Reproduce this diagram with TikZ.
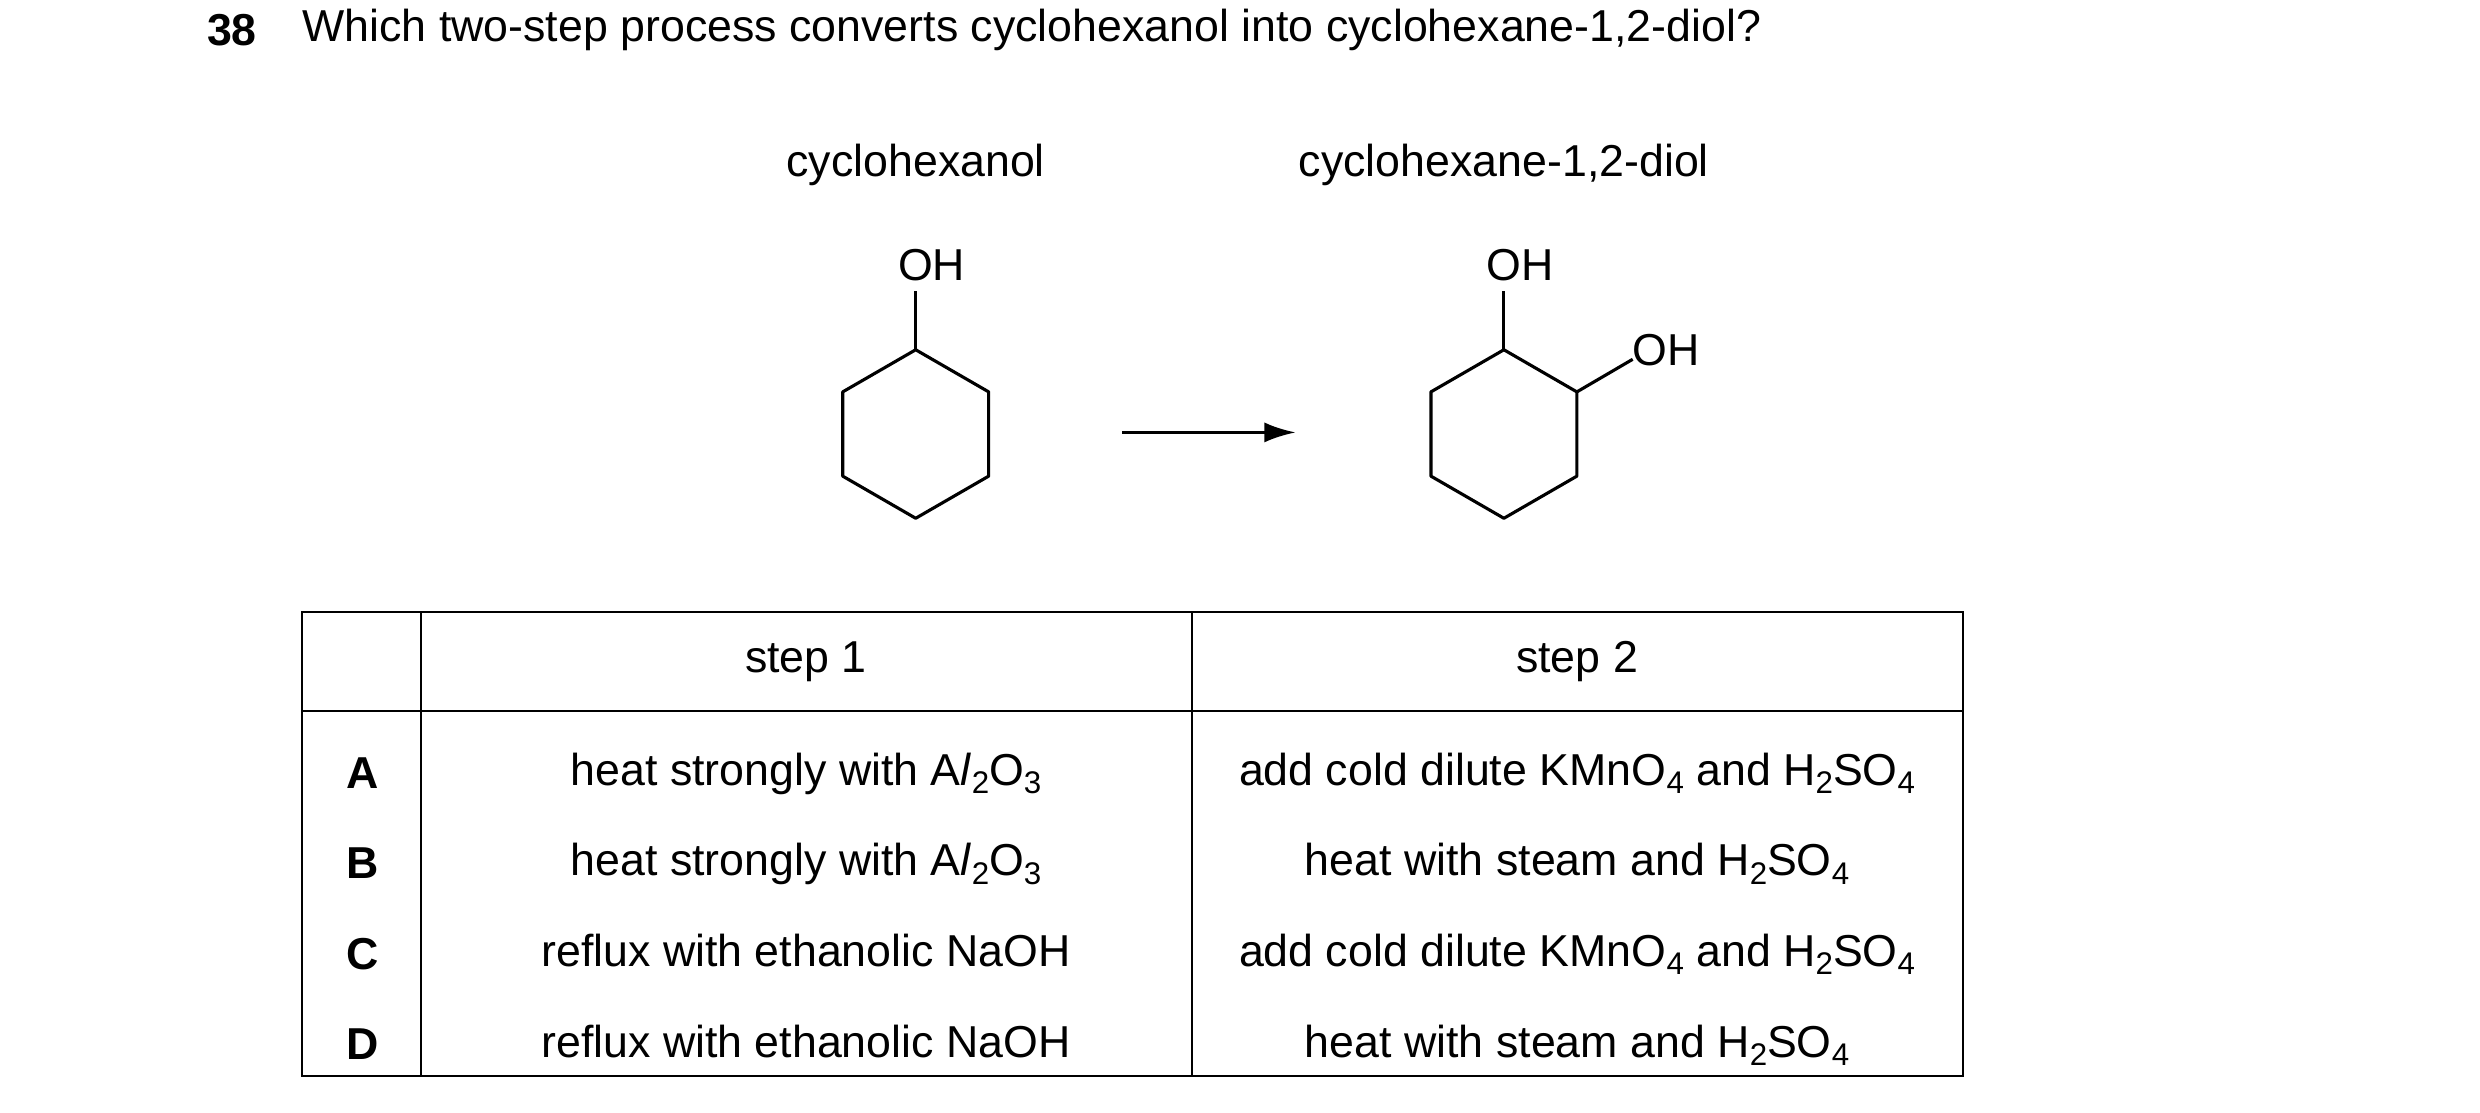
\documentclass[tikz,border=0pt]{standalone}
\usepackage{fontspec}
\setmainfont{Liberation Sans}
\usetikzlibrary{calc}
\usetikzlibrary{arrows.meta}
\tikzstyle{none}=[inner sep=0pt]
\tikzstyle{label}=[inner sep=0pt,font=\fontsize{20}{24}\selectfont]
\tikzstyle{bond}=[line width=1.4pt,line join=round]
\tikzstyle{grid}=[line width=0.9pt]
\newcommand{\sub}[1]{\raisebox{-0.35ex}{\fontsize{14}{16}\selectfont#1}}
\newcommand{\heatal}{heat strongly with A\textit{l}\sub{2}O\sub{3}}
\newcommand{\kmn}{KMnO\sub{4} and H\sub{2}SO\sub{4}}
\newcommand{\sulf}{H\sub{2}SO\sub{4}}
\begin{document}
\begin{tikzpicture}[x=0.025cm,y=-0.025cm]
	\useasboundingbox (0,0) rectangle (1560,700);
	% question
	\node [style=label,anchor=west,font=\fontsize{20}{24}\selectfont\bfseries] (num) at (130,19) {38};
	\node [style=label,anchor=west] (question) at (190,19) {Which two-step process converts cyclohexanol into cyclohexane-1,2-diol?};
	\node [style=label] (name1) at (576,104) {cyclohexanol};
	\node [style=label] (name2) at (946,104) {cyclohexane-1,2-diol};
	% rings
	\foreach \i in {0,...,5} {
		\coordinate (a\i) at ($(576,273)+(90+60*\i:53 and -53)$);
		\coordinate (b\i) at ($(946,273)+(90+60*\i:53 and -53)$);
	}
	\draw [style=bond] (a0) -- (a1) -- (a2) -- (a3) -- (a4) -- (a5) -- cycle;
	\draw [style=bond] (b0) -- (b1) -- (b2) -- (b3) -- (b4) -- (b5) -- cycle;
	\node [style=label] (oh1) at (586,167) {OH};
	\node [style=label] (oh2) at (956,167) {OH};
	\node [style=label] (oh3) at (1048,220) {OH};
	\coordinate (c1) at (576,183);
	\coordinate (c2) at (946,183);
	\coordinate (c3) at (1027,226);
	\draw [style=bond] (a0) -- (c1);
	\draw [style=bond] (b0) -- (c2);
	\draw [style=bond] (b5) -- (c3);
	% arrow
	\coordinate (r0) at (706,272);
	\coordinate (r1) at (815,272);
	\draw [line width=1.4pt,-{Latex[length=14pt,width=9pt]}] (r0) -- (r1);
	% table
	\draw [style=grid] (190,385) rectangle (1235,677);
	\draw [style=grid] (190,447) -- (1235,447);
	\draw [style=grid] (265,385) -- (265,677);
	\draw [style=grid] (750,385) -- (750,677);
	\node [style=label] (h1) at (507,416) {step 1};
	\node [style=label] (h2) at (992,416) {step 2};
	\foreach \k/\y/\s/\t in {A/486/\heatal/add cold dilute \kmn,
		B/543/\heatal/heat with steam and \sulf,
		C/600/reflux with ethanolic NaOH/add cold dilute \kmn,
		D/657/reflux with ethanolic NaOH/heat with steam and \sulf} {
		\node [style=label,font=\fontsize{20}{24}\selectfont\bfseries] (k\k) at (228,\y) {\k};
		\node [style=label,anchor=base] (s\k) at (507,\y+8) {\s};
		\node [style=label,anchor=base] (t\k) at (992,\y+8) {\t};
	}
\end{tikzpicture}
\end{document}
